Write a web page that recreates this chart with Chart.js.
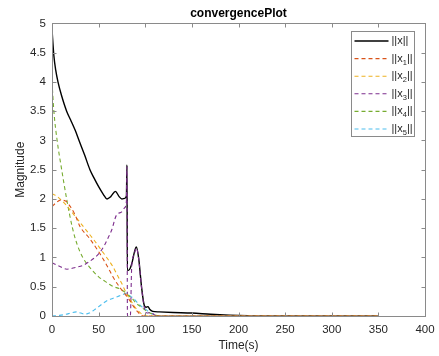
<!DOCTYPE html>
<html>
<head>
<meta charset="utf-8">
<script src="https://cdn.jsdelivr.net/npm/chart.js@4.4.1/dist/chart.umd.min.js"></script>
<style>
  html, body { margin: 0; padding: 0; background: #fff; }
</style>
</head>
<body>
<canvas id="c" width="439" height="356"></canvas>
<script>
// ||x|| and its components (time in s)
const normT = [0, 2, 4, 6.4, 10, 15.7, 20, 25, 29, 35, 40.7, 45, 50, 55, 59, 63, 68, 72, 75, 78, 79.8, 80.4, 80.8, 82, 84, 86, 88.5, 90.5, 93, 96, 99, 101, 103, 105, 108, 115, 130, 150, 170, 190, 210, 230, 350];
const normY = [4.9, 4.45, 4.2, 4.0, 3.78, 3.5, 3.35, 3.17, 3.0, 2.75, 2.5, 2.36, 2.21, 2.08, 2.0, 2.04, 2.13, 2.04, 2.0, 2.01, 2.05, 2.58, 0.78, 0.78, 0.82, 0.92, 1.1, 1.18, 0.98, 0.5, 0.18, 0.15, 0.16, 0.11, 0.08, 0.07, 0.06, 0.05, 0.03, 0.015, 0.005, 0, 0];

const x1T = [0, 4, 9, 14, 20, 25, 30, 40, 50, 55, 60, 65, 70, 75, 80, 84, 88, 92, 95, 98, 105, 350];
const x1Y = [1.87, 1.93, 1.98, 1.97, 1.86, 1.72, 1.53, 1.33, 1.1, 0.97, 0.83, 0.68, 0.55, 0.44, 0.34, 0.25, 0.15, 0.07, 0.02, 0, 0, 0];

const x2T = [0, 5, 10, 15, 22, 30, 35, 40, 45, 50, 55, 60, 65, 70, 75, 80, 85, 90, 95, 100, 105, 350];
const x2Y = [2.09, 2.05, 1.98, 1.9, 1.76, 1.6, 1.5, 1.4, 1.3, 1.19, 1.08, 0.97, 0.85, 0.7, 0.55, 0.38, 0.25, 0.13, 0.05, 0.01, 0, 0];

const x3T = [0, 8, 16, 25, 34, 40, 46, 51, 56, 60, 64, 69, 74.7, 78, 79.8, 80.4, 80.9, 84, 85.5, 88, 90.5, 93, 96, 99, 102, 106, 112, 350];
const x3Y = [0.91, 0.85, 0.8, 0.83, 0.87, 0.93, 1.0, 1.08, 1.2, 1.33, 1.47, 1.72, 1.78, 1.85, 1.97, 2.55, 0, 0, 0.85, 1.05, 1.16, 0.97, 0.49, 0.14, 0.05, 0.06, 0, 0];

const x4T = [0, 2, 5.5, 10.4, 15.7, 22, 27, 33, 40, 50, 60, 66, 72, 78, 82, 86, 90, 95, 100, 105, 110, 120, 350];
const x4Y = [4.0, 3.5, 3.0, 2.5, 2.0, 1.5, 1.22, 1.0, 0.84, 0.67, 0.56, 0.5, 0.47, 0.41, 0.35, 0.3, 0.22, 0.16, 0.1, 0.05, 0.02, 0, 0];

const x5T = [0, 8, 15, 20, 26, 31, 35, 40, 45, 50, 55, 60, 65, 70, 75, 80, 84, 88, 92, 97, 100, 105, 110, 120, 350];
const x5Y = [0, 0.01, 0.03, 0.05, 0.07, 0.05, 0.03, 0.05, 0.1, 0.16, 0.22, 0.27, 0.3, 0.33, 0.36, 0.39, 0.34, 0.29, 0.22, 0.15, 0.12, 0.06, 0.02, 0, 0];

const seriesLabels = ['||x||', '||x_1||', '||x_2||', '||x_3||', '||x_4||', '||x_5||'];
const seriesColors = ['#000000', '#D95319', '#EDB120', '#7E2F8E', '#77AC30', '#4DBEEE'];
const xTicks = [0, 50, 100, 150, 200, 250, 300, 350, 400];
const yTicks = [0, 0.5, 1, 1.5, 2, 2.5, 3, 3.5, 4, 4.5, 5];

const FONT = '"Liberation Sans", Arial, Helvetica, sans-serif';
const axisColor = '#8a8a8a';
const textColor = '#262626';

function pts(ts, ys) {
  return ts.map((t, i) => ({x: t, y: ys[i]}));
}

const allT = [normT, x1T, x2T, x3T, x4T, x5T];
const allY = [normY, x1Y, x2Y, x3Y, x4Y, x5Y];

const datasets = seriesLabels.map((lab, i) => ({
  label: lab,
  data: pts(allT[i], allY[i]),
  borderColor: seriesColors[i],
  borderWidth: i === 0 ? 1.4 : 1.1,
  borderDash: i === 0 ? [] : [4, 3],
  pointRadius: 0,
  cubicInterpolationMode: 'monotone',
  order: i === 0 ? 1 : 0
}));

// box round the axes with MATLAB style inward ticks
const frame = {
  id: 'frame',
  afterDatasetsDraw(chart) {
    const {ctx, chartArea: a, scales} = chart;
    const l = Math.round(a.left) + 0.5, r = Math.round(a.right) + 0.5;
    const t = Math.round(a.top) + 0.5, b = Math.round(a.bottom) + 0.5;
    ctx.save();
    ctx.strokeStyle = axisColor;
    ctx.lineWidth = 1;
    ctx.strokeRect(l, t, r - l, b - t);
    ctx.beginPath();
    scales.x.ticks.forEach(tk => {
      const px = Math.round(scales.x.getPixelForValue(tk.value)) + 0.5;
      ctx.moveTo(px, b); ctx.lineTo(px, b - 4);
      ctx.moveTo(px, t); ctx.lineTo(px, t + 4);
    });
    scales.y.ticks.forEach(tk => {
      const py = Math.round(scales.y.getPixelForValue(tk.value)) + 0.5;
      ctx.moveTo(l, py); ctx.lineTo(l + 4, py);
      ctx.moveTo(r, py); ctx.lineTo(r - 4, py);
    });
    ctx.stroke();
    ctx.restore();
  }
};

// legend box inside the axes, top right
const legendBox = {
  id: 'legendBox',
  afterDraw(chart) {
    const {ctx, chartArea: a} = chart;
    const x0 = Math.round(a.right) - 73.5, y0 = Math.round(a.top) + 8.5;
    const w = 63, h = 105, step = 17.6;
    ctx.save();
    ctx.fillStyle = '#fff';
    ctx.fillRect(x0, y0, w, h);
    ctx.strokeStyle = axisColor;
    ctx.lineWidth = 1;
    ctx.strokeRect(x0, y0, w, h);
    chart.data.datasets.forEach((ds, i) => {
      const y = y0 + 9.5 + i * step;
      ctx.beginPath();
      ctx.strokeStyle = ds.borderColor;
      ctx.lineWidth = ds.borderWidth;
      ctx.setLineDash(ds.borderDash);
      ctx.moveTo(x0 + 3, y);
      ctx.lineTo(x0 + 37, y);
      ctx.stroke();
      ctx.setLineDash([]);
      const parts = ds.label.split('_');
      ctx.fillStyle = textColor;
      ctx.textBaseline = 'middle';
      ctx.textAlign = 'left';
      let tx = x0 + 40;
      ctx.font = '11px ' + FONT;
      ctx.fillText(parts[0], tx, y);
      if (parts.length > 1) {
        tx += ctx.measureText(parts[0]).width;
        ctx.font = '7.5px ' + FONT;
        ctx.fillText(parts[1][0], tx, y + 4);
        tx += ctx.measureText(parts[1][0]).width;
        ctx.font = '11px ' + FONT;
        ctx.fillText(parts[1].slice(1), tx, y);
      }
    });
    ctx.restore();
  }
};

new Chart(document.getElementById('c'), {
  type: 'line',
  data: {datasets: datasets},
  options: {
    responsive: false,
    animation: false,
    layout: {padding: {top: 0, right: 14, bottom: 0, left: 0}},
    plugins: {
      legend: {display: false},
      tooltip: {enabled: false},
      title: {
        display: true,
        fullSize: false,
        text: 'convergencePlot',
        color: '#000',
        font: {family: FONT, size: 12, weight: 'bold'},
        padding: {top: 6, bottom: 3}
      }
    },
    scales: {
      x: {
        type: 'linear',
        min: 0, max: 400,
        afterBuildTicks: s => { s.ticks = xTicks.map(v => ({value: v})); },
        afterFit: s => { s.height = 40; s.paddingRight = 0; s.paddingLeft = 0; },
        grid: {display: false, drawTicks: false},
        border: {display: false},
        ticks: {color: textColor, font: {family: FONT, size: 11.5}, padding: 7, maxRotation: 0, callback: v => String(v)},
        title: {display: true, text: 'Time(s)', color: textColor, font: {family: FONT, size: 12}, padding: {top: 0, bottom: 3}}
      },
      y: {
        type: 'linear',
        min: 0, max: 5,
        afterBuildTicks: s => { s.ticks = yTicks.map(v => ({value: v})); },
        afterFit: s => { s.width = 52; },
        grid: {display: false, drawTicks: false},
        border: {display: false},
        ticks: {color: textColor, font: {family: FONT, size: 11.5}, padding: 6, callback: v => String(v)},
        title: {display: true, text: 'Magnitude', color: textColor, font: {family: FONT, size: 12}, padding: {top: 13, bottom: 0}}
      }
    }
  },
  plugins: [frame, legendBox]
});
</script>
</body>
</html>
